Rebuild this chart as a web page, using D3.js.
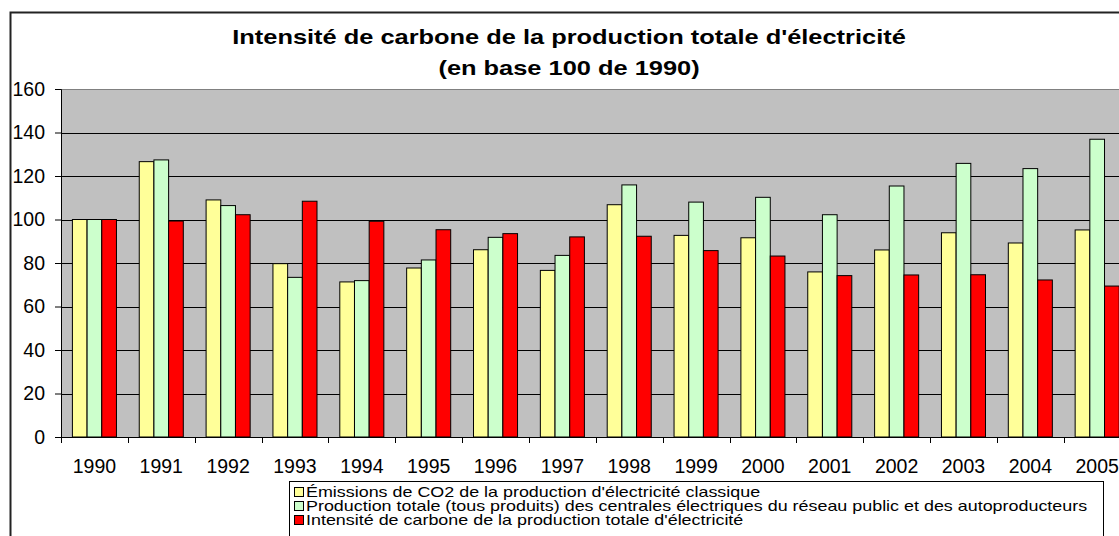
<!doctype html>
<html lang="fr">
<head>
    <meta charset="UTF-8">
    <title>Intensité de carbone</title>
    <script src="https://d3js.org/d3.v7.min.js"></script>
    <style>
        body { margin: 0; background: #fff; }
        svg { display: block; font-family: Arial, "Liberation Sans", sans-serif; }
    </style>
</head>
<body>
<div id="chart-area"></div>

<script>

const years = ['1990', '1991', '1992', '1993', '1994', '1995', '1996', '1997',
               '1998', '1999', '2000', '2001', '2002', '2003', '2004', '2005'];

const emissions  = [100, 126.6, 109, 79.7, 71.3, 77.7, 86.1, 76.6, 106.8, 92.7, 91.6, 75.9, 86, 93.9, 89.2, 95.2];
const production = [100, 127.4, 106.4, 73.4, 71.9, 81.4, 91.8, 83.5, 115.9, 108, 110.2, 102.2, 115.4, 125.8, 123.4, 136.9];
const intensite  = [100, 99.3, 102.2, 108.4, 99.2, 95.3, 93.5, 92, 92.3, 85.7, 83.2, 74.2, 74.5, 74.6, 72.2, 69.4];

const seriesNames = [
    "Émissions de CO2 de la production d'électricité classique",
    "Production totale (tous produits) des centrales électriques du réseau public et des autoproducteurs",
    "Intensité de carbone de la production totale d'électricité"
];
const seriesColors = ['#FFFF99', '#CCFFCC', '#FF0000'];
const yTicks = [0, 20, 40, 60, 80, 100, 120, 140, 160];
const titleLines = ["Intensité de carbone de la production totale d'électricité", '(en base 100 de 1990)'];

const series = [emissions, production, intensite];

const W = 1119, H = 536;
const plot = { left: 61, top: 89, bottom: 437, right: 61 + 16 * 66.85 };

const svg = d3.select('#chart-area')
    .append('svg')
    .attr('width', W)
    .attr('height', H);

// outer chart frame (runs past the window on the right and bottom)
svg.append('rect')
    .attr('x', 10.5).attr('y', 12.5)
    .attr('width', 1200).attr('height', 600)
    .attr('fill', '#fff')
    .attr('stroke', '#222')
    .attr('stroke-width', 2);

// title (the original text is stretched sideways)
svg.append('g')
    .attr('font-weight', 'bold')
    .attr('font-size', 21)
    .attr('fill', '#000')
    .selectAll('text')
    .data(titleLines)
    .join('text')
    .attr('text-anchor', 'middle')
    .attr('transform', (d, i) => `translate(569,${44 + i * 31}) scale(1.21,1)`)
    .text(d => d);

const x = d3.scaleBand()
    .domain(years)
    .range([plot.left, plot.right])
    .paddingInner(0)
    .paddingOuter(0);

const xs = d3.scaleBand()
    .domain(d3.range(series.length))
    .range([11.4, x.bandwidth() - 11.4]);

const y = d3.scaleLinear()
    .domain([0, 160])
    .range([plot.bottom, plot.top]);

// plot area
svg.append('rect')
    .attr('x', plot.left).attr('y', plot.top)
    .attr('width', plot.right - plot.left)
    .attr('height', plot.bottom - plot.top)
    .attr('fill', '#C0C0C0');

svg.append('line')
    .attr('x1', plot.left).attr('x2', plot.right)
    .attr('y1', plot.top + 0.5).attr('y2', plot.top + 0.5)
    .attr('stroke', '#808080');

// gridlines
svg.append('g')
    .selectAll('line')
    .data(yTicks.slice(1, -1))
    .join('line')
    .attr('x1', plot.left).attr('x2', plot.right)
    .attr('y1', d => Math.round(y(d)) + 0.5)
    .attr('y2', d => Math.round(y(d)) + 0.5)
    .attr('stroke', '#000');

// bars
const groups = svg.append('g')
    .selectAll('g')
    .data(years)
    .join('g')
    .attr('transform', d => `translate(${x(d)},0)`);

groups.selectAll('rect')
    .data((d, i) => series.map((s, k) => ({ k, v: s[i] })))
    .join('rect')
    .attr('x', d => xs(d.k))
    .attr('y', d => y(d.v))
    .attr('width', xs.bandwidth())
    .attr('height', d => y(0) - y(d.v))
    .attr('fill', d => seriesColors[d.k])
    .attr('stroke', '#000')
    .attr('stroke-width', 1);

// axes
const xAxis = svg.append('g')
    .attr('transform', `translate(0,${plot.bottom})`);
xAxis.append('line')
    .attr('x1', plot.left).attr('x2', plot.right)
    .attr('y1', 0.5).attr('y2', 0.5)
    .attr('stroke', '#000');
xAxis.selectAll('line.tick')
    .data(d3.range(years.length + 1))
    .join('line')
    .attr('class', 'tick')
    .attr('x1', i => Math.round(plot.left + i * x.step()) + 0.5)
    .attr('x2', i => Math.round(plot.left + i * x.step()) + 0.5)
    .attr('y1', 0).attr('y2', 6)
    .attr('stroke', '#000');
xAxis.selectAll('text')
    .data(years)
    .join('text')
    .attr('x', d => x(d) + x.bandwidth() / 2)
    .attr('y', 36)
    .attr('text-anchor', 'middle')
    .attr('font-size', 19.5)
    .text(d => d);

const yAxis = svg.append('g')
    .attr('transform', `translate(${plot.left},0)`)
    .call(d3.axisLeft(y).tickValues(yTicks).tickSize(6).tickPadding(10));
yAxis.select('.domain').attr('stroke', '#000');
yAxis.selectAll('.tick line').attr('stroke', '#000');
yAxis.selectAll('text')
    .attr('font-size', 19.5)
    .attr('font-family', 'Arial, "Liberation Sans", sans-serif')
    .attr('fill', '#000');

// legend
const legend = svg.append('g').attr('transform', 'translate(289,481)');
legend.append('rect')
    .attr('x', 0.5).attr('y', 0.5)
    .attr('width', 814).attr('height', 80)
    .attr('fill', '#fff')
    .attr('stroke', '#000');

const items = legend.selectAll('g.item')
    .data(seriesNames)
    .join('g')
    .attr('class', 'item')
    .attr('transform', (d, i) => `translate(5,${11 + i * 14})`);
items.append('rect')
    .attr('x', 0.5).attr('y', -4.5)
    .attr('width', 9).attr('height', 9)
    .attr('fill', (d, i) => seriesColors[i])
    .attr('stroke', '#000');
items.append('text')
    .attr('transform', 'translate(12,5) scale(1.28,1)')
    .attr('font-size', 14)
    .text(d => d);

</script>
</body>
</html>
